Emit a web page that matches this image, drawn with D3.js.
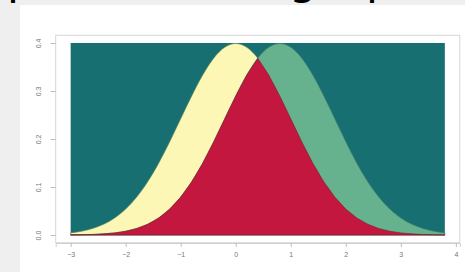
<!DOCTYPE html>
<html><head><meta charset="utf-8">
<script src="https://cdn.jsdelivr.net/npm/d3@7"></script>
<style>html,body{margin:0;padding:0;background:#efefef;overflow:hidden}</style>
</head><body>
<svg id="c" width="465" height="272"></svg>
<script>
// x grid (step 0.2)
const xs = [-3,-2.8,-2.6,-2.4,-2.2,-2,-1.8,-1.6,-1.4,-1.2,-1,-0.8,-0.6,-0.4,-0.2,0,0.2,0.4,0.6,0.8,1,1.2,1.4,1.6,1.8,2,2.2,2.4,2.6,2.8,3,3.2,3.4,3.6,3.8];
// curve A (yellow, centred at 0)
const curveA = [.0044,.0079,.0136,.0224,.0355,.0540,.0790,.1109,.1497,.1942,.2420,.2897,.3332,.3683,.3910,.3989,.3910,.3683,.3332,.2897,.2420,.1942,.1497,.1109,.0790,.0540,.0355,.0224,.0136,.0079,.0044,.0024,.0012,.0006,.0003];
// curve B (green, centred at 0.8)
const curveB = [.0003,.0006,.0012,.0024,.0044,.0079,.0136,.0224,.0355,.0540,.0790,.1109,.1497,.1942,.2420,.2897,.3332,.3683,.3910,.3989,.3910,.3683,.3332,.2897,.2420,.1942,.1497,.1109,.0790,.0540,.0355,.0224,.0136,.0079,.0044];
const xTicks = [-3,-2,-1,0,1,2,3,4];
const yTicks = [0,0.1,0.2,0.3,0.4];
const yTickLabels = ["0.0","0.1","0.2","0.3","0.4"];
const regionTop = 0.4;

const svg = d3.select("#c");
// partially visible title glyphs (mostly hidden by the white panel, as in the reference)
svg.append("text").attr("x",7).attr("y",-6).attr("font-family","DejaVu Sans").attr("font-size",44).attr("fill","#000").text("p");
svg.append("text").attr("x",289).attr("y",-6).attr("font-family","DejaVu Sans").attr("font-size",44).attr("fill","#000").text("g");
svg.append("text").attr("x",366).attr("y",-6).attr("font-family","DejaVu Sans").attr("font-size",44).attr("fill","#000").text("p");
svg.append("rect").attr("x",20).attr("y",5).attr("width",445).attr("height",267).attr("fill","#ffffff");

const x = d3.scaleLinear().domain([-3.272,4.072]).range([55.7,459.8]);
const y = d3.scaleLinear().domain([-0.016,0.416]).range([242.7,35.3]);

const data = xs.map((v,i)=>({x:v,a:curveA[i],b:curveB[i],m:Math.min(curveA[i],curveB[i])}));

const g = svg.append("g");
g.append("rect").attr("x",x(xs[0])).attr("y",y(regionTop)).attr("width",x(xs[xs.length-1])-x(xs[0])).attr("height",y(0)-y(regionTop)).attr("fill","#186f71");

const area = key => d3.area().x(d=>x(d.x)).y0(y(0)).y1(d=>y(d[key])).curve(d3.curveMonotoneX);
g.append("path").datum(data).attr("d",area("a")).attr("fill","#fdf7b6").attr("stroke","#5f8a5a").attr("stroke-width",0.6);
g.append("path").datum(data).attr("d",area("b")).attr("fill","#66b28e").attr("stroke","#3f7f6a").attr("stroke-width",0.6);
g.append("path").datum(data).attr("d",area("m").curve(d3.curveLinear)).attr("fill","#c4173f").attr("stroke","#7a1a2a").attr("stroke-width",0.6);

// box
svg.append("rect").attr("x",55.7).attr("y",35.3).attr("width",459.8-55.7).attr("height",242.7-35.3).attr("fill","none").attr("stroke","#d6d6d6").attr("stroke-width",1);

const xa = svg.append("g").attr("transform","translate(0,243)")
  .call(d3.axisBottom(x).tickValues(xTicks).tickSize(4).tickPadding(5).tickFormat(d3.format("d")));
xa.selectAll("path").attr("stroke","#cfcfcf");
xa.selectAll("line").attr("stroke","#bdbdbd");
xa.selectAll("text").attr("fill","#777").attr("font-size",7).attr("font-family","Liberation Sans");

const ya = svg.append("g").attr("transform","translate(55.7,0)")
  .call(d3.axisLeft(y).tickValues(yTicks).tickSize(5).tickPadding(0).tickFormat((d,i)=>yTickLabels[i]));
ya.select("path").remove();
ya.selectAll("line").attr("stroke","#bdbdbd");
ya.selectAll("text").attr("fill","#777").attr("font-size",7).attr("font-family","Liberation Sans")
  .attr("text-anchor","middle").attr("x",0).attr("dy",0)
  .attr("transform",d=>`translate(-15,${0}) rotate(-90)`);
</script>
</body></html>
